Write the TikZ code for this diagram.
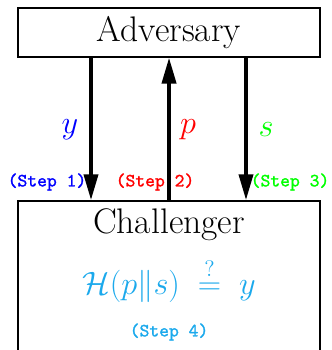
\documentclass[tikz,border=0pt]{standalone}
\usepackage{fontspec}
\usepackage{amsmath,amssymb}
\usepackage{xcolor}
\usepackage{tikz}
\usetikzlibrary{arrows.meta,positioning,calc}
\definecolor{stepcyan}{HTML}{1BA9EC}
\newfontfamily\stepfam{lmmono10-regular.otf}[FakeBold=1.4]
\newcommand{\partyfont}{\fontsize{22.8}{27}\selectfont}
\newcommand{\stepfont}{\stepfam\fontsize{12}{14}\selectfont}

\tikzset{
  party/.style={draw,line width=1.2pt,minimum width=6.81cm,font=\partyfont},
  msg/.style={line width=2.1pt,-{Triangle[length=0.58cm,width=0.32cm]}},
  steplbl/.style={font=\stepfont},
  varlbl/.style={font=\partyfont}
}

\begin{document}
\begin{tikzpicture}[x=1cm,y=1cm]
  \useasboundingbox (0,0) rectangle (7.483,7.889);
  \clip (0,0) rectangle (7.483,7.889);
  % parties
  \node[party,minimum height=1.10cm] (adv) at (3.81,7.157) {Adversary};
  \node[party,minimum height=4cm,anchor=north] (chal) at (3.81,3.381) {};
  \node[font=\partyfont] (chalname) at (3.81,2.818) {Challenger};
  \node[font=\huge,text=stepcyan] (check) at (3.81,1.578) {$\mathcal{H}(p\|s)\;\stackrel{?}{=}\;y$};
  \node[steplbl,text=stepcyan] (step4) at (3.81,0.406) {(Step 4)};
  % messages
  \coordinate (c1) at (2.051,0);
  \coordinate (c2) at (3.81,0);
  \coordinate (c3) at (5.545,0);
  \draw[msg] (c1 |- adv.south) -- (c1 |- chal.north);
  \draw[msg] (c2 |- chal.north) -- (c2 |- adv.south);
  \draw[msg] (c3 |- adv.south) -- (c3 |- chal.north);
  % labels
  \node[varlbl,text=blue] (ylbl) at (1.578,4.959) {$y$};
  \node[varlbl,text=red] (plbl) at (4.238,4.959) {$p$};
  \node[varlbl,text=green] (slbl) at (5.996,4.959) {$s$};
  \node[steplbl,text=blue] (step1) at (1.059,3.787) {(Step 1)};
  \node[steplbl,text=red] (step2) at (3.494,3.787) {(Step 2)};
  \node[steplbl,text=green] (step3) at (6.537,3.787) {(Step 3)};
\end{tikzpicture}
\end{document}
